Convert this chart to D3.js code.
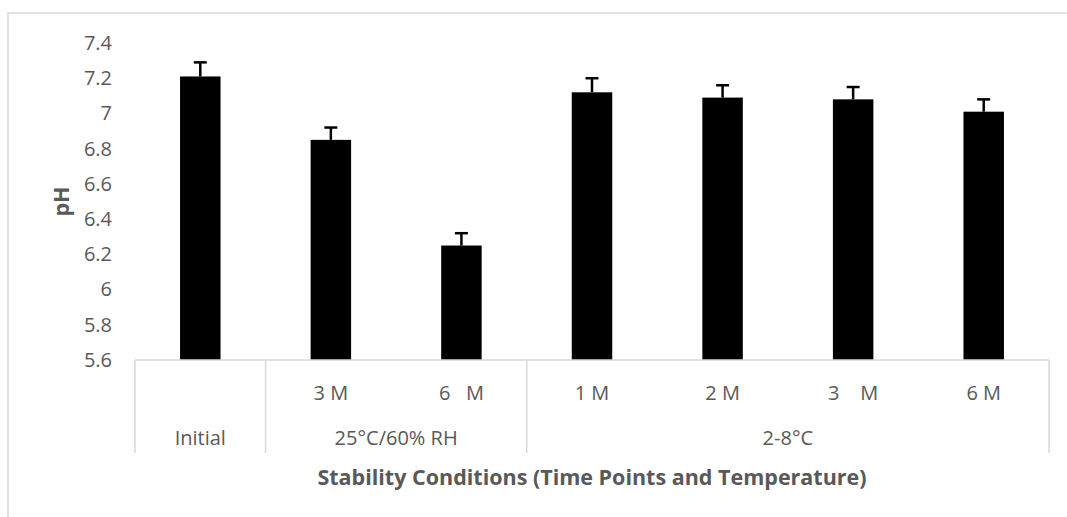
<!DOCTYPE html>
<html>
<head>
<meta charset="utf-8">
<script src="https://cdn.jsdelivr.net/npm/d3@7"></script>
<style>
  body { margin: 0; background: #fff; }
  text { font-family: "Open Sans", sans-serif; }
</style>
</head>
<body>
<svg id="chart" width="1067" height="517"></svg>
<script>
// data
const timePoints = ["", "3 M", "6   M", "1 M", "2 M", "3    M", "6 M"]
const conditions = ["Initial", "25°C/60% RH", "25°C/60% RH", "2-8°C", "2-8°C", "2-8°C", "2-8°C"]
const phValues = [7.21, 6.85, 6.25, 7.12, 7.09, 7.08, 7.01]
const phErrors = [0.08, 0.07, 0.07, 0.08, 0.07, 0.07, 0.07]
const yTicks = [5.6, 5.8, 6, 6.2, 6.4, 6.6, 6.8, 7, 7.2, 7.4]

const gridColor = '#d9d9d9'
const textColor = '#595959'

const svg = d3.select('#chart')

// outer chart border (cropped at right and bottom)
svg.append('rect')
    .attr('x', 8).attr('y', 13)
    .attr('width', 1200).attr('height', 600)
    .style('fill', 'none')
    .style('stroke', gridColor)
    .style('stroke-width', 1.5)

const plotLeft = 135, plotRight = 1049, plotTop = 43, plotBottom = 360

const xAxis = d3.scaleBand()
    .domain(d3.range(phValues.length))
    .range([plotLeft, plotRight])
    .paddingInner(0.69)
    .paddingOuter(0.345)

const yAxis = d3.scaleLinear()
    .domain([5.6, 7.4])
    .range([plotBottom, plotTop])

// y axis labels
const yG = svg.append('g')
    .attr('transform', `translate(${plotLeft - 10},0)`)
    .call(d3.axisLeft(yAxis).tickValues(yTicks).tickSize(0).tickPadding(13)
        .tickFormat(d => +d.toFixed(1)))
yG.select('.domain').remove()
yG.selectAll('text')
    .style('font-family', '"Open Sans", sans-serif')
    .style('font-size', '20px')
    .style('fill', textColor)

// bars
svg.append('g')
    .selectAll('rect')
    .data(phValues)
    .enter()
    .append('rect')
        .attr('x', (d, i) => xAxis(i))
        .attr('y', d => yAxis(d))
        .attr('width', xAxis.bandwidth())
        .attr('height', d => plotBottom - yAxis(d))
        .style('fill', 'black')

// error bars (plus only)
const err = svg.append('g')
    .selectAll('g')
    .data(phValues)
    .enter()
    .append('g')
err.append('line')
    .attr('x1', (d, i) => xAxis(i) + xAxis.bandwidth() / 2)
    .attr('x2', (d, i) => xAxis(i) + xAxis.bandwidth() / 2)
    .attr('y1', d => yAxis(d))
    .attr('y2', (d, i) => yAxis(d + phErrors[i]))
    .style('stroke', 'black')
    .style('stroke-width', 2.5)
err.append('line')
    .attr('x1', (d, i) => xAxis(i) + xAxis.bandwidth() / 2 - 6.5)
    .attr('x2', (d, i) => xAxis(i) + xAxis.bandwidth() / 2 + 6.5)
    .attr('y1', (d, i) => yAxis(d + phErrors[i]))
    .attr('y2', (d, i) => yAxis(d + phErrors[i]))
    .style('stroke', 'black')
    .style('stroke-width', 2.5)

// multi-level category axis
const step = xAxis.step()
const boxBottom = 453
const catAxis = svg.append('g')

catAxis.append('line')
    .attr('x1', plotLeft).attr('x2', plotRight)
    .attr('y1', plotBottom).attr('y2', plotBottom)
    .style('stroke', gridColor).style('stroke-width', 1.5)

// group spans from the conditions list
const groups = []
conditions.forEach((c, i) => {
    const last = groups[groups.length - 1]
    if (last && last.name === c) last.end = i
    else groups.push({ name: c, start: i, end: i })
})

catAxis.selectAll('.sep')
    .data([0].concat(groups.map(g => g.end + 1)))
    .enter()
    .append('line')
        .attr('x1', d => plotLeft + d * step)
        .attr('x2', d => plotLeft + d * step)
        .attr('y1', plotBottom).attr('y2', boxBottom)
        .style('stroke', gridColor).style('stroke-width', 1.5)

catAxis.selectAll('.tp')
    .data(timePoints)
    .enter()
    .append('text')
        .attr('x', (d, i) => xAxis(i) + xAxis.bandwidth() / 2)
        .attr('y', 393)
        .attr('dy', '0.35em')
        .attr('text-anchor', 'middle')
        .style('white-space', 'pre')
        .style('font-size', '20px')
        .style('fill', textColor)
        .text(d => d)

catAxis.selectAll('.grp')
    .data(groups)
    .enter()
    .append('text')
        .attr('x', d => plotLeft + (d.start + d.end + 1) / 2 * step)
        .attr('y', 438)
        .attr('dy', '0.35em')
        .attr('text-anchor', 'middle')
        .style('font-size', '20px')
        .style('fill', textColor)
        .text(d => d.name)

// axis titles
svg.append('text')
    .attr('x', (plotLeft + plotRight) / 2)
    .attr('y', 477)
    .attr('dy', '0.35em')
    .attr('text-anchor', 'middle')
    .style('font-size', '21.5px')
    .style('font-weight', 'bold')
    .style('fill', textColor)
    .text('Stability Conditions (Time Points and Temperature)')

svg.append('text')
    .attr('transform', `translate(61,${(plotTop + plotBottom) / 2}) rotate(-90)`)
    .attr('dy', '0.35em')
    .attr('text-anchor', 'middle')
    .style('font-size', '21.5px')
    .style('font-weight', 'bold')
    .style('fill', textColor)
    .text('pH')
</script>
</body>
</html>
